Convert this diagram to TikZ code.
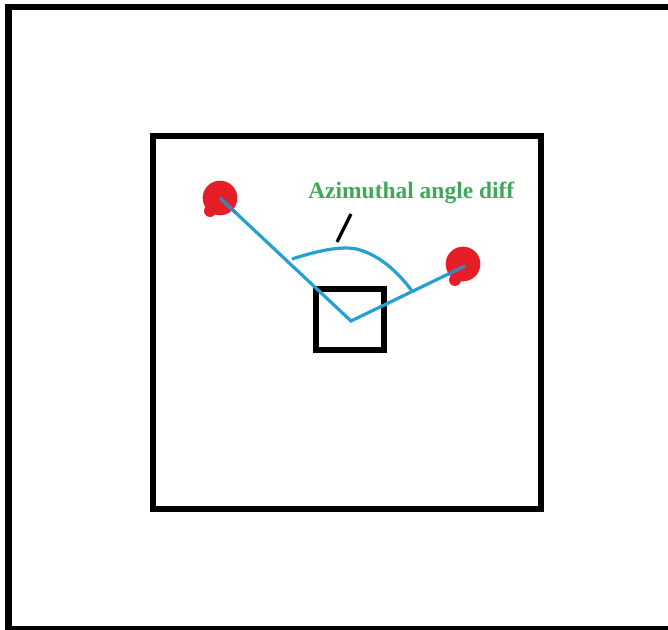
\documentclass[tikz,border=0pt]{standalone}
\usepackage{fontspec}
\setmainfont{Liberation Serif}
\usetikzlibrary{calc}
\definecolor{skyblue}{RGB}{38,160,208}
\definecolor{steel}{RGB}{70,125,185}
\definecolor{blobred}{RGB}{230,30,40}
\definecolor{txtgreen}{RGB}{62,168,88}
\begin{document}
\begin{tikzpicture}[x=0.75pt,y=-0.75pt,
  frame/.style={draw=black,line width=4.5pt},
  blob/.style={circle,fill=blobred,minimum size=26pt,inner sep=0pt},
  ray/.style={draw=skyblue,line width=2.4pt},
  lbl/.style={text=txtgreen,font=\bfseries\fontsize{17.6}{20}\selectfont,inner sep=0pt}]
\useasboundingbox (0,0) rectangle (668,630);
\draw[frame,line width=5.2pt] (8.5,7) rectangle (676,629);
\draw[frame] (153,136) rectangle (541,509);
\draw[frame,line width=3.8pt] (316,289) rectangle (384,350);
\node[blob] (p1) at (220,198) {};
\node[blob,minimum size=9pt] at (210,211) {};
\node[blob] (p2) at (463,264) {};
\node[blob,minimum size=9pt] at (455,280) {};
\coordinate (v) at (351,321);
\coordinate (c1) at (220,198);
\coordinate (c2) at (465,266);
\draw[ray] (c1) -- (v) -- (c2);
\draw[draw=steel,line width=2.4pt] (c1) -- ($(c1)!0.12!(v)$);
\draw[draw=steel,line width=2.4pt] (c2) -- ($(c2)!0.15!(v)$);
\coordinate (a1) at (292,259);
\coordinate (a2) at (412,291);
\draw[ray] (a1) .. controls (320,250) and (345,245) .. (360,250) .. controls (380,256) and (398,272) .. (a2);
\coordinate (t1) at (337,242);
\coordinate (t2) at (351,214);
\draw[line width=2.4pt] (t1) -- (t2);
\node[lbl,anchor=base west] (txt) at (308,199) {Azimuthal angle diff};
\end{tikzpicture}
\end{document}
